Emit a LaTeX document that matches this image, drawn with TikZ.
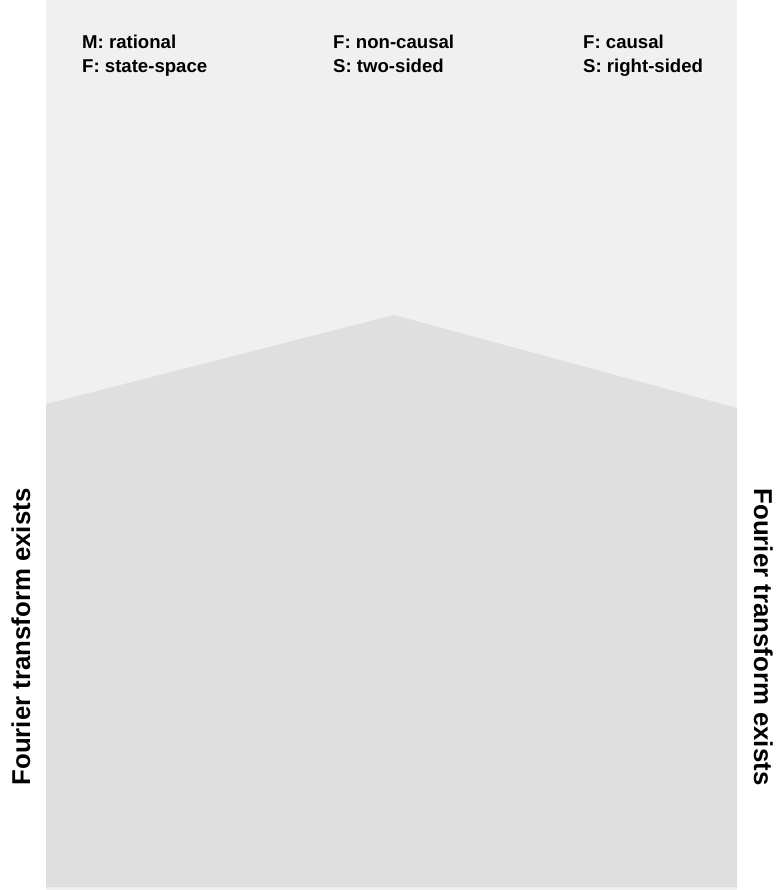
\documentclass[tikz,border=0pt]{standalone}
\usepackage{fontspec}
\setmainfont{Liberation Sans}
\definecolor{lightbg}{RGB}{240,240,240}
\definecolor{darkbg}{RGB}{223,223,223}
\begin{document}
\begin{tikzpicture}[x=1pt,y=-1pt,
  lbl/.style={anchor=base west,inner sep=0pt,font=\fontsize{18.6}{24}\selectfont\bfseries,align=left},
  side/.style={inner sep=0pt,font=\fontsize{25.8}{30}\selectfont\bfseries}]
\useasboundingbox (0,0) rectangle (783,890);
\fill[lightbg] (46,0) rectangle (737,890);
\fill[darkbg] (46,404) -- (394,315) -- (737,408) -- (737,887) -- (46,887) -- cycle;
\node[lbl] (t1a) at (82,49) {M: rational};
\node[lbl] (t1b) at (82,73) {F: state-space};
\node[lbl] (t2a) at (333,49) {F: non-causal};
\node[lbl] (t2b) at (333,73) {S: two-sided};
\node[lbl] (t3a) at (583,49) {F: causal};
\node[lbl] (t3b) at (583,73) {S: right-sided};
\node[side,rotate=90,anchor=base] (left) at (30,637) {Fourier transform exists};
\node[side,rotate=-90,anchor=base] (right) at (754,637) {Fourier transform exists};
\end{tikzpicture}
\end{document}
